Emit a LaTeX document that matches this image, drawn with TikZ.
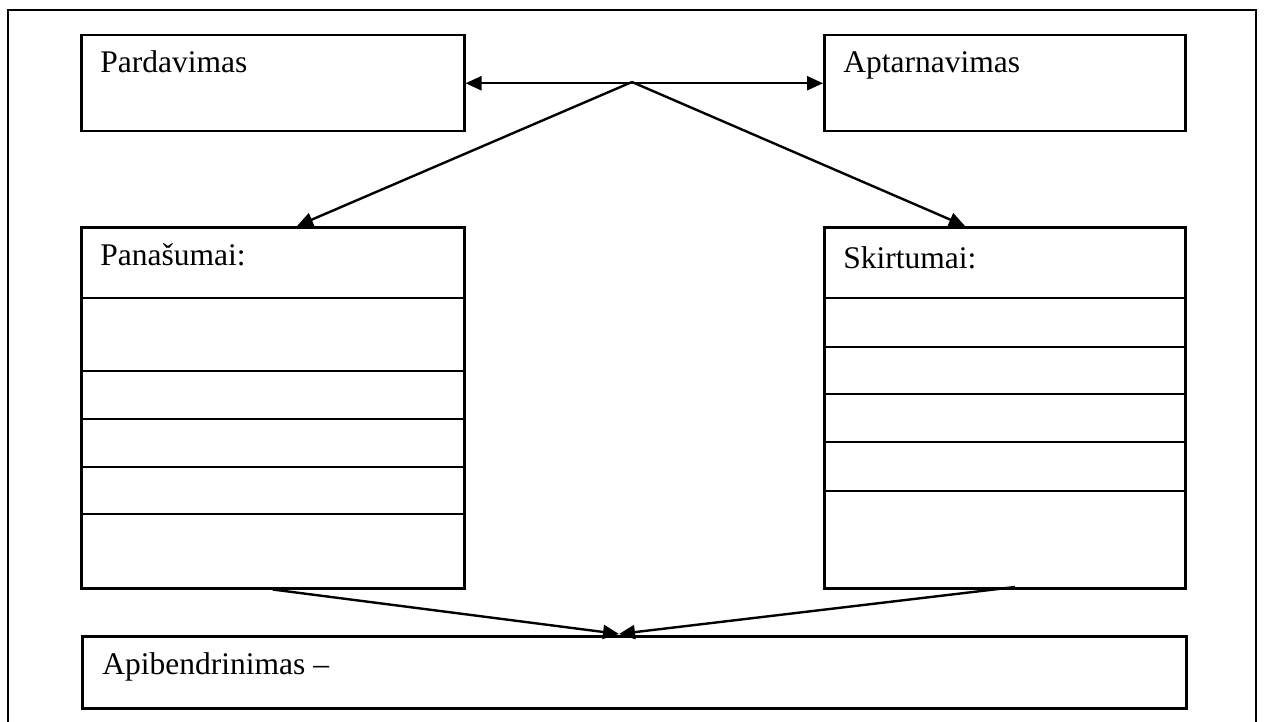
\documentclass[tikz,border=0pt]{standalone}
\usepackage{fontspec}
\setmainfont{Liberation Serif}
\usetikzlibrary{arrows.meta}
\begin{document}
\begin{tikzpicture}[x=0.5pt,y=-0.5pt,
  box/.style={draw, line width=1.25pt, inner sep=0pt, anchor=north west},
  txt/.style={anchor=base west, inner sep=0pt, font=\fontsize{15.75pt}{18pt}\selectfont},
  rowline/.style={line width=1.25pt},
  conn/.style={line width=1.2pt, -{Triangle[length=8pt,width=7pt]}},
  dconn/.style={line width=1.2pt, {Triangle[length=8pt,width=7pt]}-{Triangle[length=8pt,width=7pt]}},
  frame/.style={line width=1.1pt}]
\useasboundingbox (0,0) rectangle (1264,722);
% outer frame (open at the bottom)
\draw[frame] (8,722) -- (8,10) -- (1256,10) -- (1256,722);
% boxes
\node[box, minimum width=191.5pt, minimum height=48pt] (pard) at (80,34) {};
\node[box, minimum width=180.5pt, minimum height=48pt] (apt) at (823,34) {};
\node[box, minimum width=191.5pt, minimum height=180.5pt] (pan) at (80,226) {};
\node[box, minimum width=180.5pt, minimum height=180.5pt] (skir) at (823,226) {};
\node[box, minimum width=552pt, minimum height=36pt] (apib) at (81,635) {};
% texts
\node[txt] (tpard) at (100,73) {Pardavimas};
\node[txt] (tapt) at (843,73) {Aptarnavimas};
\node[txt] (tpan) at (100,265) {Panašumai:};
\node[txt] (tskir) at (843,268) {Skirtumai:};
\node[txt] (tapib) at (102,674) {Apibendrinimas –};
% table rows
\foreach \yy in {298,371,419,467,514}
  \draw[rowline] (pan.west |- 0,\yy) -- (pan.east |- 0,\yy);
\foreach \yy in {298,347,394,442,491}
  \draw[rowline] (skir.west |- 0,\yy) -- (skir.east |- 0,\yy);
% connectors
\coordinate (hub) at (632,82);
\coordinate (tipL) at (297,226);
\coordinate (tipR) at (965,226);
\coordinate (srcR) at (1015,587);
\coordinate (meet) at (619,634);
\draw[dconn] (pard.east) -- (apt.west);
\draw[conn] (hub) -- (tipL);
\draw[conn] (hub) -- (tipR);
\draw[conn] (pan.south) -- (meet);
\draw[conn] (srcR) -- (meet);
\end{tikzpicture}
\end{document}
